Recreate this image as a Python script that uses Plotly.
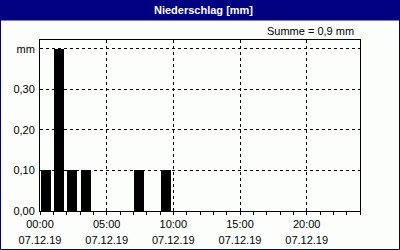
import plotly.graph_objects as go

hours = [0, 1, 2, 3, 7, 9]
values = [0.1, 0.4, 0.1, 0.1, 0.1, 0.1]
x_tickvals = [0, 5, 10, 15, 20]
x_time_labels = ["00:00", "05:00", "10:00", "15:00", "20:00"]
x_date_labels = ["07.12.19"] * 5
y_tickvals = [0, 0.1, 0.2, 0.3, 0.4]
y_ticktext = ["0,00", "0,10", "0,20", "0,30", "mm"]
title = "Niederschlag [mm]"
summe = "Summe = 0,9 mm"

NAVY = "#000080"
FONT = "Liberation Sans"

fig = go.Figure()
fig.add_trace(go.Bar(
    x=hours, y=values, offset=0.05, width=0.76,
    marker=dict(color="black", line=dict(width=0)),
))
# invisible trace on second x axis so its date labels render
fig.add_trace(go.Scatter(x=[0], y=[0], xaxis="x2", mode="markers",
                         marker=dict(opacity=0), hoverinfo="skip"))

W, H = 400, 250
L, R, T, B = 40, 40, 40, 39
pw, ph = W - L - R, H - T - B

def px_x(p):
    return (p - L) / pw

def px_y(p):
    return (H - B - p) / ph

fig.update_layout(
    width=W, height=H,
    margin=dict(l=L, r=R, t=T, b=B, autoexpand=False),
    paper_bgcolor="#fcfefc", plot_bgcolor="#fcfefc",
    showlegend=False, bargap=0,
    font=dict(family=FONT, size=11, color="black"),
    xaxis=dict(
        range=[0, 24], tickvals=x_tickvals, ticktext=x_time_labels,
        showline=True, linecolor="black", linewidth=1, mirror=True,
        ticks="outside", ticklen=3, tickcolor="black", tickwidth=1,
        ticklabelstandoff=0, automargin=False,
        minor=dict(dtick=1, tick0=0, ticks="outside", ticklen=3, tickcolor="black", showgrid=False),
        showgrid=True, gridcolor="black", gridwidth=1, griddash="3px,3px",
        zeroline=False, fixedrange=True,
    ),
    xaxis2=dict(
        range=[0, 24], tickvals=x_tickvals, ticktext=x_date_labels,
        overlaying="x", side="bottom", anchor="y",
        showline=False, ticks="", showgrid=False, zeroline=False,
        ticklabelstandoff=21, automargin=False, fixedrange=True,
    ),
    yaxis=dict(
        range=[0, 0.4215], tickvals=y_tickvals, ticktext=y_ticktext,
        showline=True, linecolor="black", linewidth=1, mirror=True,
        ticks="", ticklabelstandoff=2, automargin=False,
        showgrid=True, gridcolor="black", gridwidth=1, griddash="3px,3px",
        zeroline=False, fixedrange=True,
    ),
    shapes=[
        dict(type="rect", xref="paper", yref="paper",
             x0=px_x(0), x1=px_x(400), y0=px_y(20.5), y1=px_y(0),
             fillcolor=NAVY, line=dict(width=0), layer="above"),
        dict(type="rect", xref="paper", yref="paper",
             x0=px_x(0.5), x1=px_x(399.5), y0=px_y(249.5), y1=px_y(0.5),
             fillcolor="rgba(0,0,0,0)", line=dict(color=NAVY, width=1), layer="above"),
    ],
    annotations=[
        dict(text="<b>" + title + "</b>", xref="paper", yref="paper",
             x=px_x(203), y=px_y(10.5), xanchor="center", yanchor="middle",
             showarrow=False, font=dict(color="white", size=11, family=FONT)),
        dict(text=summe, xref="paper", yref="paper",
             x=px_x(356), y=px_y(31), xanchor="right", yanchor="middle",
             showarrow=False, font=dict(color="black", size=11, family=FONT)),
    ],
)

fig.write_html("out.html")
